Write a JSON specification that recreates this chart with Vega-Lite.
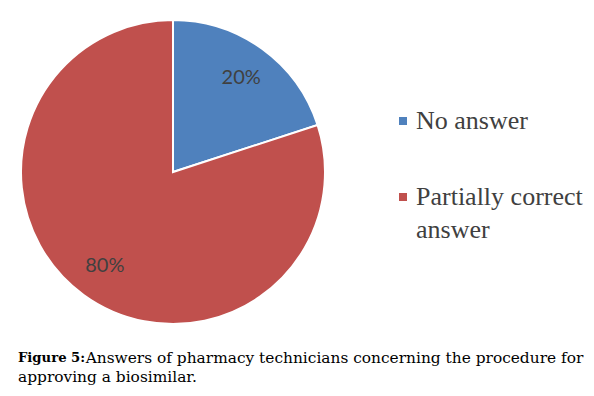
{
  "$schema": "https://vega.github.io/schema/vega-lite/v6.json",
  "width": 304,
  "height": 304,
  "padding": {"left": 17, "top": 16, "right": 0, "bottom": 0},
  "background": "white",
  "data": {"values": [
    {"answer": "No answer", "pct": 20, "label": "20%"},
    {"answer": "Partially correct answer", "pct": 80, "label": "80%"}
  ]},
  "title": {
    "text": "Figure 5:",
    "subtitle": ["\u2800\u2800\u2800\u2800\u2800\u2800Answers of pharmacy technicians concerning the procedure for", "approving a biosimilar."],
    "orient": "bottom",
    "anchor": "start",
    "frame": "group",
    "offset": 24,
    "dx": -3,
    "font": "DejaVu Serif",
    "fontSize": 13.2,
    "fontWeight": "bold",
    "color": "#000000",
    "subtitleFont": "DejaVu Serif",
    "subtitleFontSize": 15.4,
    "subtitleFontWeight": "normal",
    "subtitleColor": "#000000",
    "subtitleLineHeight": 19,
    "subtitlePadding": -14
  },
  "encoding": {
    "theta": {"field": "pct", "type": "quantitative", "stack": true},
    "color": {
      "field": "answer",
      "type": "nominal",
      "scale": {"domain": ["No answer", "Partially correct answer"], "range": ["#4F81BD", "#C0504D"]},
      "legend": {
        "orient": "none",
        "legendX": 369,
        "legendY": 88,
        "padding": 0,
        "title": null,
        "symbolType": "square",
        "symbolSize": 64,
        "symbolStrokeWidth": 0,
        "labelFont": "Liberation Serif",
        "labelFontSize": 26,
        "labelColor": "#404040",
        "labelOffset": 0,
        "labelLimit": 300,
        "rowPadding": 49,
        "labelBaseline": "alphabetic",
        "labelExpr": "datum.label == 'Partially correct answer' ? ['Partially correct', 'answer'] : datum.label"
      }
    }
  },
  "layer": [
    {"mark": {"type": "arc", "outerRadius": 152, "stroke": "white", "strokeWidth": 2}},
    {
      "mark": {"type": "text", "radius": 116, "font": "Lato", "fontSize": 20},
      "encoding": {"text": {"field": "label"}, "color": {"value": "#404040"}}
    }
  ],
  "config": {
    "view": {"stroke": null},
    "style": {"guide-label": {"dy": 7.5, "lineHeight": 33}}
  }
}
